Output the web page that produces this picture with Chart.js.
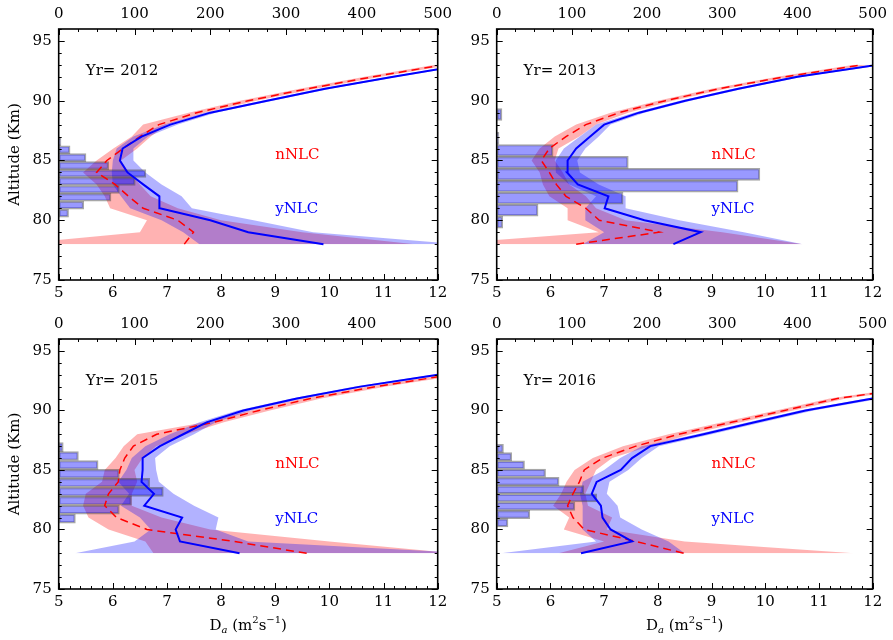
<!DOCTYPE html>
<html>
<head>
<meta charset="utf-8">
<script src="https://cdn.jsdelivr.net/npm/chart.js@4.4.0/dist/chart.umd.min.js"></script>
<style>
  body { margin: 0; background: #fff; }
  #wrap { position: relative; width: 893px; height: 640px; overflow: hidden; }
  canvas { position: absolute; }
</style>
</head>
<body>
<div id="wrap">
  <canvas id="p2012" width="460" height="310" style="left:0px;top:0px"></canvas>
  <canvas id="p2013" width="453" height="310" style="left:440px;top:0px"></canvas>
  <canvas id="p2015" width="460" height="330" style="left:0px;top:310px"></canvas>
  <canvas id="p2016" width="453" height="330" style="left:440px;top:310px"></canvas>
</div>
<script>
// Altitude grid (km) of the mean / spread profiles
const altitudes = [78, 79, 80, 81, 82, 83, 84, 85, 86, 87, 88, 89, 90, 91, 92, 93];

// Tick labels
const daTicks = [5, 6, 7, 8, 9, 10, 11, 12];
const countTicks = [0, 100, 200, 300, 400, 500];
const altTicks = [75, 80, 85, 90, 95];

// 2012
const nMean2012 = [7.32, 7.49, 7.20, 6.56, 6.29, 6.04, 5.70, 5.89, 6.19, 6.50, 6.85, 7.55, 8.50, 9.60, 10.80, 12.10];
const nLo2012 = [4.16, 6.50, 6.63, 5.95, 5.85, 5.70, 5.45, 5.70, 6.01, 6.35, 6.56, 7.40, 8.35, 9.45, 10.65, 11.95];
const nHi2012 = [11.58, 9.50, 8.00, 7.20, 6.70, 6.50, 6.30, 6.15, 6.45, 6.70, 7.00, 7.70, 8.65, 9.75, 10.95, 12.25];
const yMean2012 = [9.89, 8.50, 7.80, 6.87, 6.86, 6.56, 6.27, 6.13, 6.18, 6.53, 7.06, 7.80, 8.85, 9.92, 11.18, 12.50];
const yLo2012 = [7.60, 7.30, 6.90, 6.32, 6.15, 6.00, 5.98, 6.00, 6.07, 6.38, 6.95, 7.70, 8.75, 9.82, 11.08, 12.40];
const yHi2012 = [12.40, 9.70, 8.60, 7.46, 7.27, 6.90, 6.60, 6.38, 6.38, 6.65, 7.20, 7.90, 8.95, 10.02, 11.28, 12.60];
const histAlt2012 = [86.56, 85.90, 85.24, 84.57, 83.91, 83.25, 82.58, 81.92, 81.26, 80.59];
const histCount2012 = [3, 15, 36, 66, 115, 101, 80, 69, 33, 13];

// 2013
const nMean2013 = [6.48, 8.03, 6.91, 6.66, 6.29, 6.11, 5.98, 5.83, 5.98, 6.29, 6.66, 7.28, 8.14, 9.13, 10.36, 11.80];
const nLo2013 = [4.00, 6.90, 6.32, 6.32, 5.98, 5.86, 5.80, 5.65, 5.80, 6.08, 6.48, 7.12, 8.00, 9.00, 10.22, 11.65];
const nHi2013 = [10.70, 9.20, 7.40, 6.85, 6.66, 6.35, 6.23, 6.08, 6.15, 6.54, 6.85, 7.45, 8.28, 9.27, 10.50, 11.95];
const yMean2013 = [8.29, 8.80, 7.75, 7.01, 7.08, 6.51, 6.31, 6.32, 6.48, 6.74, 7.00, 7.65, 8.51, 9.50, 10.60, 12.10];
const yLo2013 = [6.60, 7.00, 6.65, 6.65, 6.85, 6.35, 6.10, 6.10, 6.25, 6.55, 6.85, 7.55, 8.41, 9.40, 10.50, 12.00];
const yHi2013 = [10.70, 9.60, 8.40, 7.40, 7.40, 6.90, 6.55, 6.50, 6.65, 6.90, 7.12, 7.75, 8.61, 9.60, 10.70, 12.20];
const histAlt2013 = [88.85, 87.85, 86.85, 85.84, 84.84, 83.84, 82.84, 81.84, 80.84, 79.83];
const histCount2013 = [7, 0, 3, 75, 175, 350, 321, 168, 55, 8];

// 2015
const nMean2015 = [9.58, 8.23, 6.63, 6.07, 5.85, 5.92, 6.10, 6.13, 6.22, 6.38, 6.81, 7.86, 8.70, 9.65, 10.85, 12.25];
const nLo2015 = [6.75, 6.60, 5.92, 5.55, 5.45, 5.50, 5.80, 5.85, 6.05, 6.20, 6.45, 7.70, 8.55, 9.50, 10.70, 12.10];
const nHi2015 = [12.30, 10.00, 7.80, 6.90, 6.35, 6.35, 6.45, 6.40, 6.55, 6.80, 7.35, 8.05, 8.90, 9.85, 11.05, 12.45];
const yMean2015 = [8.34, 7.24, 7.16, 7.28, 6.58, 6.76, 6.53, 6.55, 6.55, 6.87, 7.30, 7.73, 8.41, 9.40, 10.57, 12.00];
const yLo2015 = [5.30, 6.40, 6.70, 6.50, 6.15, 6.30, 6.10, 6.25, 6.35, 6.60, 7.05, 7.60, 8.30, 9.30, 10.47, 11.90];
const yHi2015 = [12.60, 8.50, 7.90, 7.95, 7.50, 7.12, 6.85, 6.80, 6.78, 7.05, 7.50, 7.90, 8.55, 9.50, 10.67, 12.10];
const histAlt2015 = [86.92, 86.17, 85.42, 84.67, 83.92, 83.16, 82.41, 81.66, 80.91];
const histCount2015 = [6, 26, 52, 80, 120, 138, 96, 80, 22];

// 2016
const nMean2016 = [8.48, 7.59, 6.63, 6.42, 6.32, 6.42, 6.54, 6.63, 6.97, 7.59, 8.39, 9.37, 10.36, 11.34, 12.90, 14.40];
const nLo2016 = [6.15, 7.00, 6.25, 6.35, 6.05, 6.20, 6.30, 6.45, 6.79, 7.35, 8.20, 9.20, 10.20, 11.20, 12.75, 14.25];
const nHi2016 = [11.65, 8.50, 7.05, 7.15, 6.70, 6.65, 6.75, 6.85, 7.15, 7.85, 8.60, 9.55, 10.52, 11.50, 13.05, 14.55];
const yMean2016 = [6.57, 7.52, 7.12, 6.97, 6.94, 6.77, 6.86, 7.31, 7.52, 7.86, 8.85, 9.80, 10.75, 12.00, 13.40, 14.80];
const yLo2016 = [5.08, 6.85, 6.60, 6.60, 6.60, 6.55, 6.60, 7.00, 7.30, 7.70, 8.72, 9.68, 10.63, 11.88, 13.28, 14.68];
const yHi2016 = [8.50, 8.20, 7.70, 7.30, 7.25, 7.05, 7.10, 7.45, 7.70, 8.02, 9.00, 9.95, 10.90, 12.15, 13.55, 14.95];
const histAlt2016 = [86.80, 86.11, 85.42, 84.73, 84.03, 83.34, 82.65, 81.95, 81.26, 80.57];
const histCount2016 = [9, 20, 37, 65, 83, 116, 133, 104, 44, 15];

const FONT = "'DejaVu Serif', serif";

// Panels: canvas id, year, and how the axis boxes are sized
const panels = [
  { id: "p2012", year: "2012", left: 58.7, right: 22.3, top: 29, bottom: 30, yTitle: true, xTitle: false,
    n: [nMean2012, nLo2012, nHi2012], y: [yMean2012, yLo2012, yHi2012], hist: [histAlt2012, histCount2012] },
  { id: "p2013", year: "2013", left: 56.7, right: 17.3, top: 29, bottom: 30, yTitle: false, xTitle: false,
    n: [nMean2013, nLo2013, nHi2013], y: [yMean2013, yLo2013, yHi2013], hist: [histAlt2013, histCount2013] },
  { id: "p2015", year: "2015", left: 58.7, right: 22.3, top: 29, bottom: 51, yTitle: true, xTitle: true,
    n: [nMean2015, nLo2015, nHi2015], y: [yMean2015, yLo2015, yHi2015], hist: [histAlt2015, histCount2015] },
  { id: "p2016", year: "2016", left: 56.7, right: 17.3, top: 29, bottom: 51, yTitle: false, xTitle: true,
    n: [nMean2016, nLo2016, nHi2016], y: [yMean2016, yLo2016, yHi2016], hist: [histAlt2016, histCount2016] },
];

function profile(values) {
  return altitudes.map((a, i) => ({ x: values[i], y: a }));
}

// Inward ticks on all four sides, frame, labels and axis titles
const decoPlugin = {
  id: "deco",
  afterDraw(chart, args, opts) {
    const { ctx, chartArea: a, scales } = chart;
    const sx = scales.x, sx2 = scales.x2, sy = scales.y;
    ctx.save();
    ctx.strokeStyle = "#000";
    ctx.lineWidth = 1;
    const seg = (x1, y1, x2, y2) => {
      ctx.beginPath();
      ctx.moveTo(x1, y1);
      ctx.lineTo(x2, y2);
      ctx.stroke();
    };
    // altitude ticks, left and right
    for (let v = 75; v <= 96; v++) {
      const len = v % 5 === 0 ? 6 : 3;
      const py = Math.round(sy.getPixelForValue(v)) + 0.5;
      seg(a.left, py, a.left + len, py);
      seg(a.right, py, a.right - len, py);
    }
    // D_a ticks, bottom
    for (let i = 0; i <= 35; i++) {
      const len = i % 5 === 0 ? 6 : 3;
      const px = Math.round(sx.getPixelForValue(5 + i * 0.2)) + 0.5;
      seg(px, a.bottom, px, a.bottom - len);
    }
    // count ticks, top
    for (let i = 0; i <= 20; i++) {
      const len = i % 4 === 0 ? 6 : 3;
      const px = Math.round(sx2.getPixelForValue(i * 25)) + 0.5;
      seg(px, a.top, px, a.top + len);
    }
    ctx.lineWidth = 1.6;
    ctx.strokeRect(a.left, a.top, a.right - a.left, a.bottom - a.top);

    // texts inside the panel
    ctx.font = "15px " + FONT;
    ctx.textBaseline = "middle";
    ctx.textAlign = "left";
    ctx.fillStyle = "#000";
    ctx.fillText("Yr= " + opts.year, sx.getPixelForValue(5.5), sy.getPixelForValue(92.5));
    ctx.fillStyle = "#ff0000";
    ctx.fillText("nNLC", sx.getPixelForValue(9.0), sy.getPixelForValue(85.45));
    ctx.fillStyle = "#0000ff";
    ctx.fillText("yNLC", sx.getPixelForValue(9.0), sy.getPixelForValue(80.9));

    ctx.fillStyle = "#000";
    if (opts.yTitle) {
      ctx.save();
      ctx.translate(a.left - 44, (a.top + a.bottom) / 2);
      ctx.rotate(-Math.PI / 2);
      ctx.textAlign = "center";
      ctx.font = "15px " + FONT;
      ctx.fillText("Altitude (Km)", 0, 0);
      ctx.restore();
    }
    if (opts.xTitle) {
      const big = "15px " + FONT, small = "10px " + FONT, smallIt = "italic 10px " + FONT;
      const parts = [
        { t: "D", f: big, dy: 0 },
        { t: "a", f: smallIt, dy: 4 },
        { t: " (m", f: big, dy: 0 },
        { t: "2", f: small, dy: -6 },
        { t: "s", f: big, dy: 0 },
        { t: "\u22121", f: small, dy: -6 },
        { t: ")", f: big, dy: 0 },
      ];
      let total = 0;
      parts.forEach((p) => { ctx.font = p.f; p.w = ctx.measureText(p.t).width; total += p.w; });
      let px = (a.left + a.right) / 2 - total / 2;
      const cy = a.bottom + 37;
      ctx.textAlign = "left";
      parts.forEach((p) => { ctx.font = p.f; ctx.fillText(p.t, px, cy + p.dy); px += p.w; });
    }
    ctx.restore();
  },
};

function makePanel(p) {
  const [nMean, nLo, nHi] = p.n;
  const [yMean, yLo, yHi] = p.y;
  const [hAlt, hCount] = p.hist;
  const tickFont = { family: FONT, size: 15 };
  const noGrid = { display: false, drawTicks: false, offset: false };

  new Chart(document.getElementById(p.id), {
    type: "line",
    data: {
      datasets: [
        { data: profile(nLo), borderWidth: 0, pointRadius: 0, fill: false, order: 6, clip: 0 },
        { data: profile(nHi), borderWidth: 0, pointRadius: 0, fill: "-1", order: 6, clip: 0,
          backgroundColor: "rgba(255,0,0,0.3)" },
        { data: profile(yLo), borderWidth: 0, pointRadius: 0, fill: false, order: 5, clip: 0 },
        { data: profile(yHi), borderWidth: 0, pointRadius: 0, fill: "-1", order: 5, clip: 0,
          backgroundColor: "rgba(0,0,255,0.3)" },
        {
          type: "bar",
          data: hAlt.map((a, i) => ({ x: hCount[i], y: a })),
          xAxisID: "x2",
          yAxisID: "y",
          backgroundColor: "rgba(0,0,255,0.4)",
          borderColor: "rgba(60,60,60,0.45)",
          borderWidth: 1.5,
          borderSkipped: false,
          barPercentage: 1,
          categoryPercentage: 1,
          order: 4,
          clip: 0,
        },
        { data: profile(nMean), borderColor: "#ff0000", borderWidth: 1.5, borderDash: [8, 5],
          pointRadius: 0, fill: false, order: 2, clip: 0 },
        { data: profile(yMean), borderColor: "#0000ff", borderWidth: 2, pointRadius: 0,
          fill: false, order: 1, clip: 0 },
      ].map((d) => Object.assign({ xAxisID: "x", yAxisID: "y", tension: 0 }, d)),
    },
    options: {
      indexAxis: "y",
      responsive: false,
      devicePixelRatio: 1,
      animation: false,
      layout: { padding: { left: 0, right: p.right, top: 0, bottom: 0 } },
      plugins: {
        legend: { display: false },
        tooltip: { enabled: false },
        deco: { year: p.year, yTitle: p.yTitle, xTitle: p.xTitle },
      },
      scales: {
        x: {
          type: "linear", position: "bottom", min: 5, max: 12, offset: false,
          grid: noGrid, border: { display: false },
          ticks: { font: tickFont, color: "#000", padding: 4, maxRotation: 0, autoSkip: false },
          afterBuildTicks: (s) => { s.ticks = daTicks.map((v) => ({ value: v })); },
          afterFit: (s) => { s.height = p.bottom; },
        },
        x2: {
          type: "linear", position: "top", min: 0, max: 500, offset: false,
          grid: noGrid, border: { display: false },
          ticks: { font: tickFont, color: "#000", padding: 6, maxRotation: 0, autoSkip: false },
          afterBuildTicks: (s) => { s.ticks = countTicks.map((v) => ({ value: v })); },
          afterFit: (s) => { s.height = p.top; },
        },
        y: {
          type: "linear", position: "left", min: 75, max: 96, offset: false,
          grid: noGrid, border: { display: false },
          ticks: { font: tickFont, color: "#000", padding: 7, autoSkip: false },
          afterBuildTicks: (s) => { s.ticks = altTicks.map((v) => ({ value: v })); },
          afterFit: (s) => { s.width = p.left; },
        },
      },
    },
    plugins: [decoPlugin],
  });
}

panels.forEach(makePanel);
</script>
</body>
</html>
